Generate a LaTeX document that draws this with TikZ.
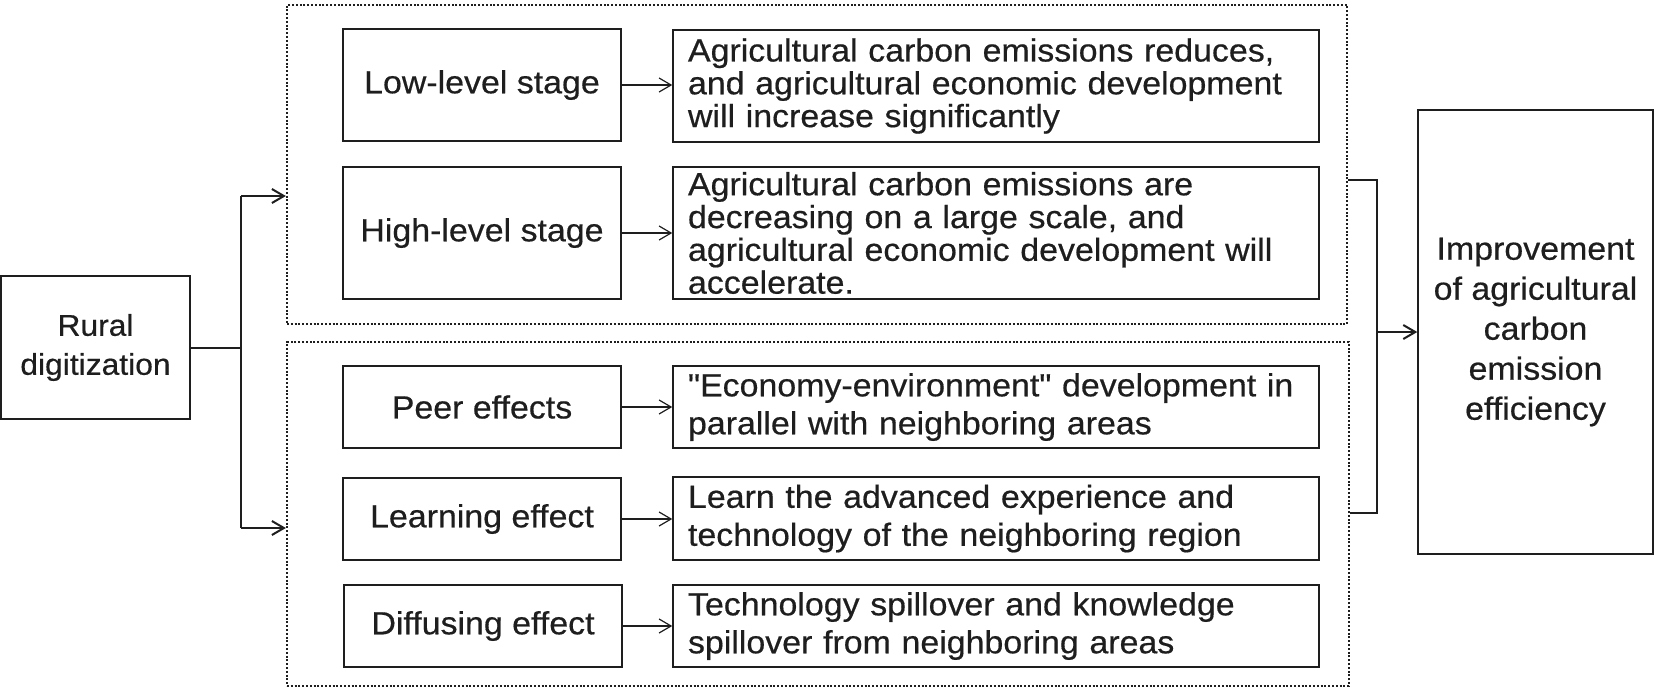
\documentclass[tikz,border=0pt]{standalone}
\usepackage{fontspec}
\setmainfont{Liberation Sans}[FakeStretch=1.06, FakeBold=0.5, Ligatures=TeXOff]
\usetikzlibrary{arrows.meta,calc}
\definecolor{ink}{RGB}{30,30,30}
\begin{document}
\begin{tikzpicture}[x=0.5pt,y=-0.5pt,
  box/.style={draw=ink, line width=0.75pt, inner sep=0pt, text=ink, align=center},
  lbox/.style={box, minimum width=139pt, font=\fontsize{16}{16.5}\selectfont},
  rbox/.style={box, minimum width=323pt, text width=308pt, inner xsep=7.5pt, align=left},
  tfont/.style={font=\fontsize{16}{16.4}\selectfont},
  bfont/.style={font=\fontsize{16}{19}\selectfont},
  grp/.style={draw=ink, line width=1.1pt, dash pattern=on 1pt off 0.9pt},
  conn/.style={draw=ink, line width=1pt},
  bigarrow/.style={conn, -{Straight Barb[length=6pt,width=7pt,line width=1pt]}},
  smallarrow/.style={draw=ink, line width=0.6pt, -{Straight Barb[length=6pt,width=7pt,line width=0.6pt]}}
]
\useasboundingbox (0,0) rectangle (1654,687);
\fill[white] (0,0) rectangle (1654,687);

% group frames
\node[grp, minimum width=530pt, minimum height=159.5pt, inner sep=0pt] (topgrp) at (817,164.5) {};
\node[grp, minimum width=531pt, minimum height=172pt, inner sep=0pt] (botgrp) at (818,514) {};

% left and right main boxes
\node[box, minimum width=94.5pt, minimum height=71.5pt, font=\fontsize{15}{19.5}\selectfont] (rural) at (95.5,347.5) {Rural\\digitization};
\node[box, minimum width=117.5pt, minimum height=222pt, font=\fontsize{16}{20}\selectfont] (big) at (1535.5,332) {Improvement\\of agricultural\\carbon\\emission\\efficiency};

% upper group
\node[lbox, minimum height=56pt] (low) at (482,85) {Low-level stage};
\node[lbox, minimum height=66pt] (high) at (482,233) {High-level stage};
\node[rbox, tfont, minimum height=56pt] (rlow) at (996,86) {Agricultural carbon emissions reduces,\\and agricultural economic development\\will increase significantly};
\node[rbox, tfont, minimum height=66pt] (rhigh) at (996,233) {Agricultural carbon emissions are\\decreasing on a large scale, and\\agricultural economic development will\\accelerate.};

% lower group
\node[lbox, minimum height=41pt] (peer) at (482,407) {Peer effects};
\node[lbox, minimum height=41pt] (learn) at (482,519) {Learning effect};
\node[lbox, minimum height=41pt] (diff) at (483,626) {Diffusing effect};
\node[rbox, bfont, minimum height=41pt] (rpeer) at (996,407) {"Economy-environment" development in\\parallel with neighboring areas};
\node[rbox, bfont, minimum height=41.5pt] (rlearn) at (996,518.5) {Learn the advanced experience and\\technology of the neighboring region};
\node[rbox, bfont, minimum height=41pt] (rdiff) at (996,626) {Technology spillover and knowledge\\spillover from neighboring areas};

% small arrows
\draw[smallarrow] (low.east) -- (rlow.west |- low.east);
\draw[smallarrow] (high.east) -- (rhigh.west |- high.east);
\draw[smallarrow] (peer.east) -- (rpeer.west |- peer.east);
\draw[smallarrow] (learn.east) -- (rlearn.west |- learn.east);
\draw[smallarrow] (diff.east) -- (rdiff.west |- diff.east);

% left splitter
\coordinate (sp) at (241,347.5);
\coordinate (sp1) at (241,196);
\coordinate (sp2) at (241,528);
\draw[conn] (rural.east) -- (sp);
\draw[conn] (sp1) -- (sp2);
\draw[bigarrow] (sp1) -- (topgrp.west |- sp1);
\draw[bigarrow] (sp2) -- (botgrp.west |- sp2);

% right bracket
\coordinate (b2) at (1377,180);
\coordinate (b3) at (1377,513);
\coordinate (bm) at (1377,332);
\draw[conn] (topgrp.east |- b2) -- (b2) -- (b3) -- (botgrp.east |- b3);
\draw[bigarrow] (bm) -- (big.west |- bm);
\end{tikzpicture}
\end{document}
